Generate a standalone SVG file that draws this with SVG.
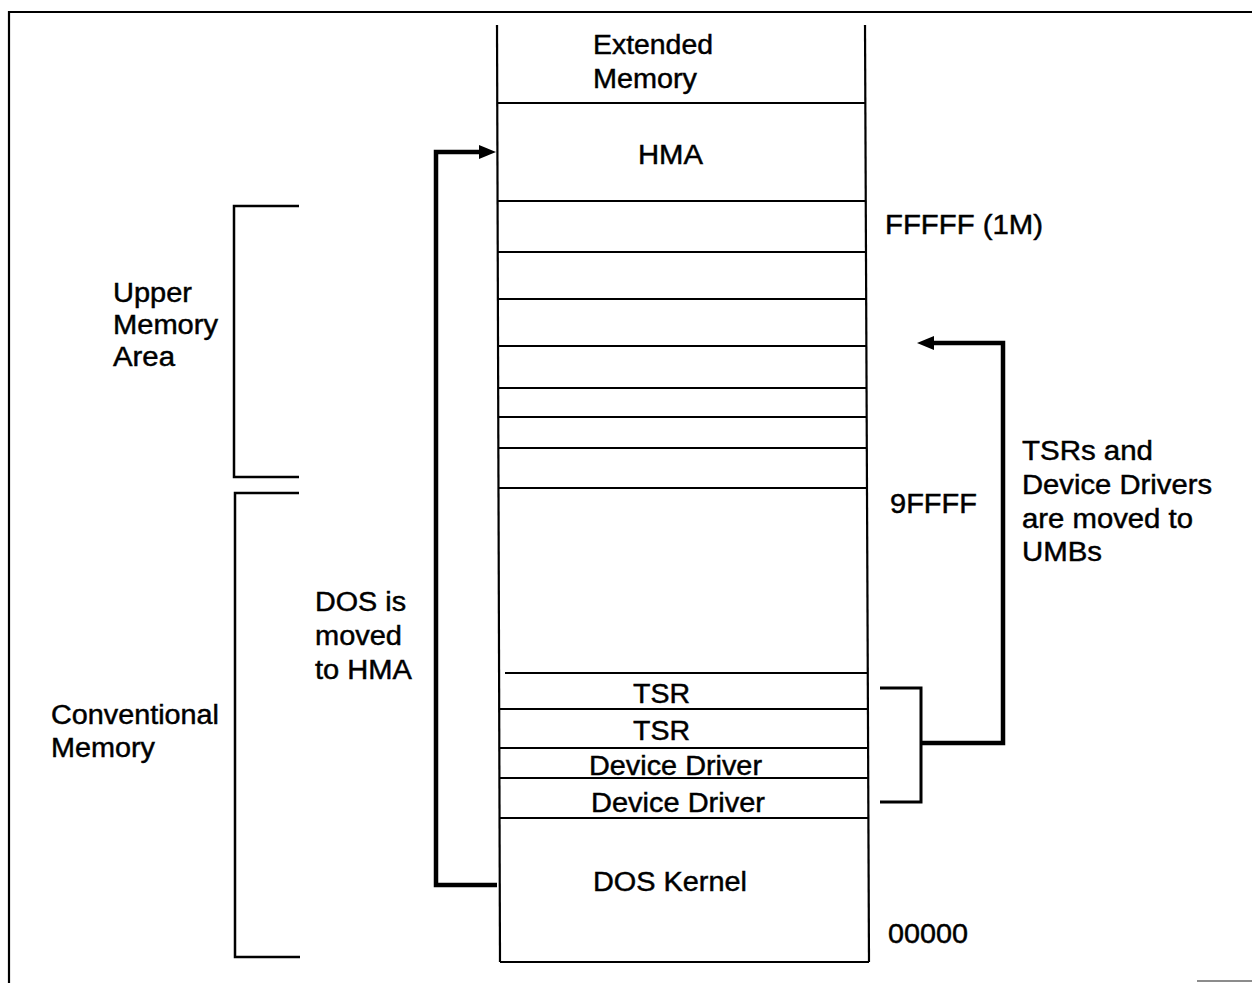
<svg xmlns="http://www.w3.org/2000/svg" width="1252" height="983" viewBox="0 0 1252 983">
<style>
.t{font-family:"Liberation Sans",Arial,sans-serif;font-size:27px;fill:#000;stroke:#000;stroke-width:0.45}
.ln{stroke:#000;stroke-width:2.2;fill:none}
.br{stroke:#000;stroke-width:2.5;fill:none}
.conn{stroke:#000;stroke-width:4.5;fill:none}
</style>
<defs>
<marker id="ah" markerUnits="userSpaceOnUse" markerWidth="17" markerHeight="14" viewBox="0 0 17 14" refX="0" refY="7" orient="auto">
<path d="M0,0 L17,7 L0,14 z" fill="#000"/>
</marker>
</defs>
<rect width="1252" height="983" fill="#fff"/>
<g id="frame">
<path class="ln" d="M9,983 V12 H1252"/>
<line x1="1197" y1="981" x2="1252" y2="981" stroke="#666" stroke-width="1.5"/>
</g>
<g id="memory-column">
<path class="ln" d="M497,25 L500,962"/>
<path class="ln" d="M865,25 L869,962"/>
<line class="ln" x1="497" y1="103" x2="865" y2="103"/>
<line class="ln" x1="497" y1="201" x2="865" y2="201"/>
<line class="ln" x1="497" y1="252" x2="866" y2="252"/>
<line class="ln" x1="497" y1="299" x2="866" y2="299"/>
<line class="ln" x1="498" y1="346" x2="866" y2="346"/>
<line class="ln" x1="498" y1="388" x2="866" y2="388"/>
<line class="ln" x1="498" y1="417" x2="866" y2="417"/>
<line class="ln" x1="498" y1="448" x2="866" y2="448"/>
<line class="ln" x1="498" y1="488" x2="866" y2="488"/>
<line class="ln" x1="505" y1="673" x2="868" y2="673"/>
<line class="ln" x1="499" y1="709" x2="868" y2="709"/>
<line class="ln" x1="499" y1="748" x2="868" y2="748"/>
<line class="ln" x1="499" y1="778" x2="868" y2="778"/>
<line class="ln" x1="499" y1="818" x2="869" y2="818"/>
<line class="ln" x1="500" y1="962" x2="869" y2="962"/>
</g>
<g id="extended-memory">
<text class="t" x="593" y="54" textLength="120" lengthAdjust="spacingAndGlyphs">Extended</text>
<text class="t" x="593" y="88" textLength="104" lengthAdjust="spacingAndGlyphs">Memory</text>
</g>
<g id="hma"><text class="t" x="638" y="164" textLength="65" lengthAdjust="spacingAndGlyphs">HMA</text></g>
<g id="tsr1"><text class="t" x="633" y="703" textLength="57" lengthAdjust="spacingAndGlyphs">TSR</text></g>
<g id="tsr2"><text class="t" x="633" y="740" textLength="57" lengthAdjust="spacingAndGlyphs">TSR</text></g>
<g id="device-driver1"><text class="t" x="589" y="775" textLength="173" lengthAdjust="spacingAndGlyphs">Device Driver</text></g>
<g id="device-driver2"><text class="t" x="591" y="812" textLength="174" lengthAdjust="spacingAndGlyphs">Device Driver</text></g>
<g id="dos-kernel"><text class="t" x="593" y="891" textLength="154" lengthAdjust="spacingAndGlyphs">DOS Kernel</text></g>
<g id="addresses">
<text class="t" x="885" y="234" textLength="158" lengthAdjust="spacingAndGlyphs">FFFFF (1M)</text>
<text class="t" x="890" y="513" textLength="87" lengthAdjust="spacingAndGlyphs">9FFFF</text>
<text class="t" x="888" y="943" textLength="80" lengthAdjust="spacingAndGlyphs">00000</text>
</g>
<g id="upper-memory-area">
<path class="br" d="M299,206 H234 V477 H299"/>
<text class="t" x="113" y="302" textLength="79" lengthAdjust="spacingAndGlyphs">Upper</text>
<text class="t" x="113" y="334" textLength="105" lengthAdjust="spacingAndGlyphs">Memory</text>
<text class="t" x="113" y="366" textLength="62" lengthAdjust="spacingAndGlyphs">Area</text>
</g>
<g id="conventional-memory">
<path class="br" d="M299,493 H235 V957 H300"/>
<text class="t" x="51" y="724" textLength="168" lengthAdjust="spacingAndGlyphs">Conventional</text>
<text class="t" x="51" y="757" textLength="104" lengthAdjust="spacingAndGlyphs">Memory</text>
</g>
<g id="dos-note">
<text class="t" x="315" y="611" textLength="91" lengthAdjust="spacingAndGlyphs">DOS is</text>
<text class="t" x="315" y="645" textLength="87" lengthAdjust="spacingAndGlyphs">moved</text>
<text class="t" x="315" y="679" textLength="97" lengthAdjust="spacingAndGlyphs">to HMA</text>
</g>
<g id="umb-note">
<text class="t" x="1022" y="460" textLength="131" lengthAdjust="spacingAndGlyphs">TSRs and</text>
<text class="t" x="1022" y="494" textLength="190" lengthAdjust="spacingAndGlyphs">Device Drivers</text>
<text class="t" x="1022" y="528" textLength="171" lengthAdjust="spacingAndGlyphs">are moved to</text>
<text class="t" x="1022" y="561" textLength="80" lengthAdjust="spacingAndGlyphs">UMBs</text>
</g>
<g id="connectors">
<path class="conn" d="M497,885 H436 V152 H479" marker-end="url(#ah)"/>
<path class="br" style="stroke-width:3" d="M880,688 H921 V802 H880"/>
<path class="conn" d="M921,743 H1003 V343 H934" marker-end="url(#ah)"/>
</g>
</svg>
